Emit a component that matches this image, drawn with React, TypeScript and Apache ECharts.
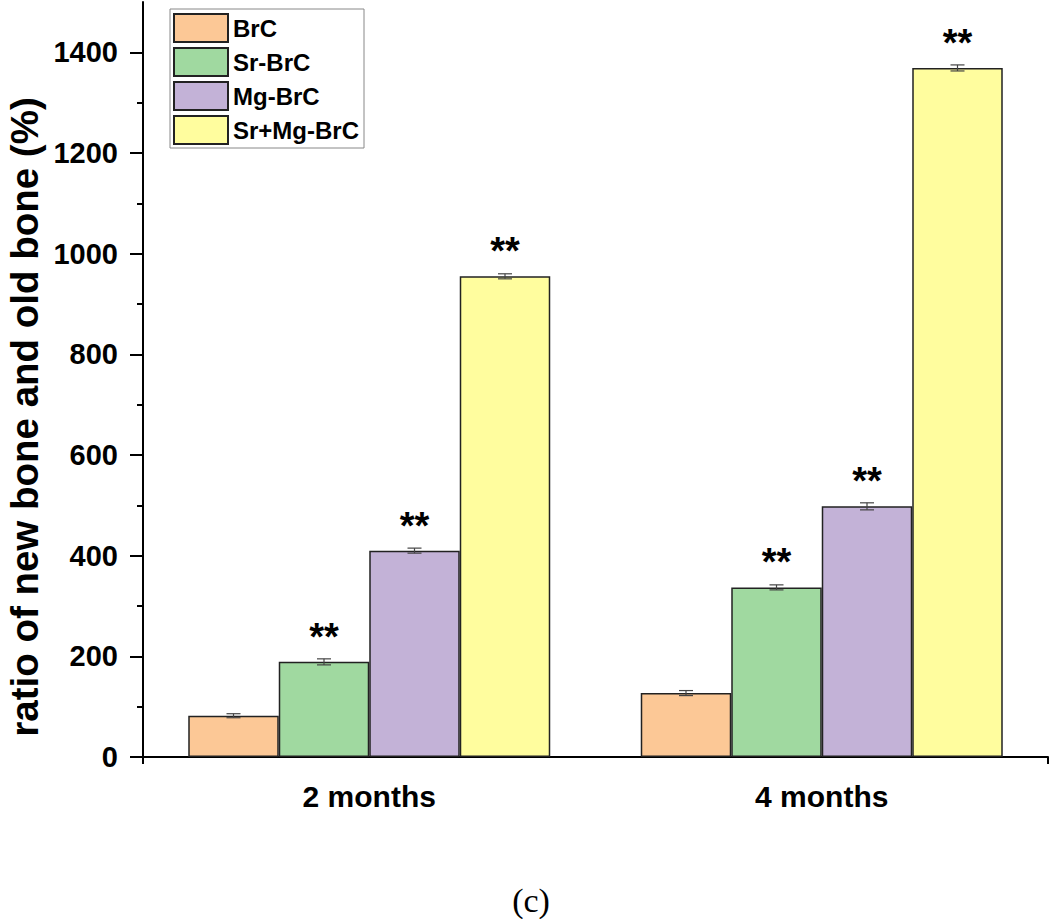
import React, { useEffect, useRef } from "react";
import * as echarts from "echarts";

const categories = ["2 months", "4 months"];
const seriesNames = ["BrC", "Sr-BrC", "Mg-BrC", "Sr+Mg-BrC"];
const brc = [82, 127];
const srBrc = [189, 337];
const mgBrc = [410, 498];
const srMgBrc = [955, 1369];
const brcErr = [4, 5];
const srBrcErr = [6, 5];
const mgBrcErr = [5, 7];
const srMgBrcErr = [5, 6];
const brcSig = ["", ""];
const srBrcSig = ["**", "**"];
const mgBrcSig = ["**", "**"];
const srMgBrcSig = ["**", "**"];
const yMajorTicks = [0, 200, 400, 600, 800, 1000, 1200, 1400];
const yMinorTicks = [100, 300, 500, 700, 900, 1100, 1300];
const yMax = 1500;
const yTitle = "ratio of new bone and old bone (%)";
const panelLabel = "(c)";

const colors = ["#FCC896", "#A0D9A0", "#C3B2D7", "#FFFD9E"];

export default function App() {
  const ref = useRef<HTMLDivElement>(null);
  useEffect(() => {
    if (!ref.current) return;
    const chart = echarts.init(ref.current, null, { renderer: "svg" });
    const values = [brc, srBrc, mgBrc, srMgBrc];
    const errs = [brcErr, srBrcErr, mgBrcErr, srMgBrcErr];
    const sigs = [brcSig, srBrcSig, mgBrcSig, srMgBrcSig];
    const font = "Liberation Sans";

    const barSeries = seriesNames.map((name, si) => ({
      type: "bar",
      name,
      xAxisIndex: 0,
      yAxisIndex: 0,
      data: values[si],
      barGap: "0%",
      barCategoryGap: "20%",
      itemStyle: { color: colors[si], borderColor: "#222", borderWidth: 1.5 },
      label: {
        show: true,
        position: "top",
        distance: 6,
        formatter: (p: any) => sigs[si][p.dataIndex],
        fontFamily: font,
        fontWeight: "bold",
        fontSize: 38,
        color: "#000",
      },
      z: 2,
    }));

    const errSeries = seriesNames.map((name, si) => ({
      type: "custom",
      name: name + " err",
      xAxisIndex: 0,
      yAxisIndex: 0,
      data: values[si].map((v, i) => [i, v, errs[si][i]]),
      z: 5,
      renderItem: (params: any, api: any) => {
        const x = api.value(0);
        const v = api.value(1);
        const e = api.value(2);
        const band = api.size([1, 0])[0];
        const bw = (band * 0.8) / 4;
        const off = (si - 1.5) * bw;
        const top = api.coord([x, v + e]);
        const bot = api.coord([x, v - e]);
        const cx = top[0] + off;
        const hw = 7;
        const st = { stroke: "#444", lineWidth: 1.2 };
        return {
          type: "group",
          children: [
            { type: "line", shape: { x1: cx, y1: top[1], x2: cx, y2: bot[1] }, style: st },
            { type: "line", shape: { x1: cx - hw, y1: top[1], x2: cx + hw, y2: top[1] }, style: st },
            { type: "line", shape: { x1: cx - hw, y1: bot[1], x2: cx + hw, y2: bot[1] }, style: st },
          ],
        };
      },
    }));

    chart.setOption({
      animation: false,
      grid: { left: 143, right: 2, top: 2, bottom: 162, containLabel: false },
      legend: {
        data: seriesNames,
        orient: "vertical",
        left: 170,
        top: 9,
        itemWidth: 54,
        itemHeight: 28,
        itemGap: 4,
        padding: [4, 5, 3, 3],
        borderColor: "#888",
        borderWidth: 1,
        icon: "rect",
        textStyle: { fontFamily: font, fontWeight: "bold", fontSize: 24, color: "#000" },
      },
      xAxis: [
        {
          type: "category",
          data: categories,
          position: "bottom",
          axisLine: { lineStyle: { color: "#000", width: 2 } },
          axisTick: { alignWithLabel: true, length: 13, lineStyle: { color: "#000", width: 2 } },
          axisLabel: { fontFamily: font, fontWeight: "bold", fontSize: 30, color: "#000", margin: 24 },
        },
        {
          type: "value",
          position: "bottom",
          min: 0,
          max: 1,
          axisLine: { show: false },
          axisTick: { show: true, customValues: [0, 1], length: 7, lineStyle: { color: "#000", width: 2 } },
          axisLabel: { show: false },
          splitLine: { show: false },
        },
      ],
      yAxis: [
        {
          type: "value",
          position: "left",
          min: 0,
          max: yMax,
          axisLine: { show: true, lineStyle: { color: "#000", width: 2 } },
          axisTick: { show: true, customValues: yMajorTicks, length: 13, lineStyle: { color: "#000", width: 2 } },
          axisLabel: {
            customValues: yMajorTicks,
            formatter: (v: number) => String(v),
            fontFamily: font,
            fontWeight: "bold",
            fontSize: 29,
            color: "#000",
            margin: 25,
          },
          splitLine: { show: false },
        },
        {
          type: "value",
          position: "left",
          min: 0,
          max: yMax,
          axisLine: { show: false },
          axisTick: { show: true, customValues: yMinorTicks, length: 6, lineStyle: { color: "#000", width: 2 } },
          axisLabel: { show: false },
          splitLine: { show: false },
        },
      ],
      graphic: [
        {
          type: "text",
          x: 24,
          y: 417,
          rotation: Math.PI / 2,
          style: {
            text: yTitle,
            fontFamily: font,
            fontWeight: "bold",
            fontSize: 38.5,
            fill: "#000",
            align: "center",
            verticalAlign: "middle",
          },
        },
        {
          type: "text",
          x: 531,
          y: 900,
          style: {
            text: panelLabel,
            fontFamily: "Liberation Serif",
            fontSize: 34,
            fill: "#000",
            align: "center",
            verticalAlign: "middle",
          },
        },
      ],
      series: [...barSeries, ...errSeries],
    });
    return () => chart.dispose();
  }, []);
  return (
    <div
      ref={ref}
      style={{ width: 1050, height: 919, position: "absolute", left: 0, top: 0, background: "#fff" }}
    />
  );
}
